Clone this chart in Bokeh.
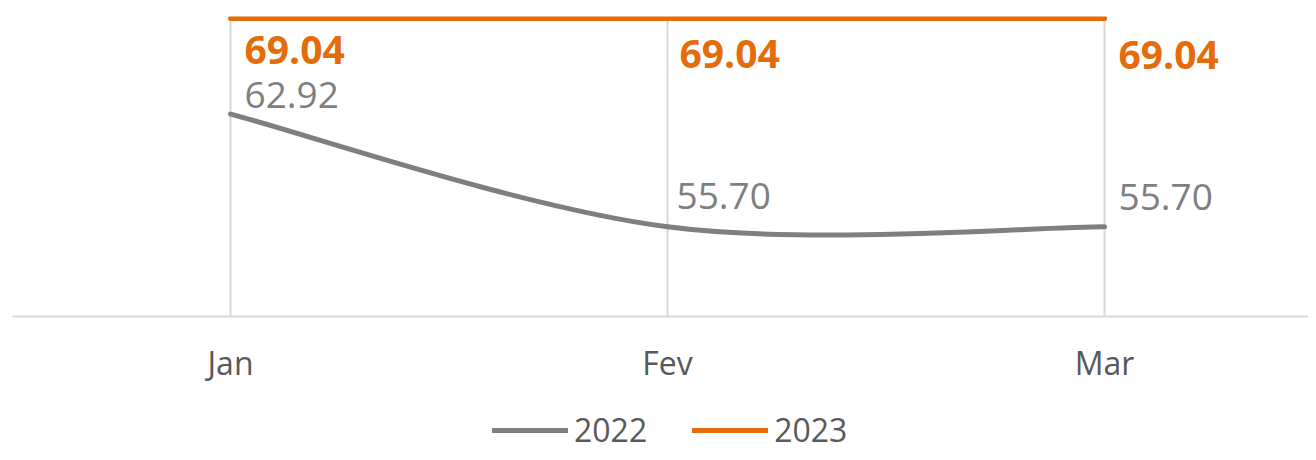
import numpy as np
from bokeh.plotting import figure
from bokeh.layouts import column
from bokeh.models import Range1d, FixedTicker, Legend, LegendItem, ColumnDataSource
from bokeh.core.properties import value
from bokeh.embed import file_html
from bokeh.resources import INLINE

# ---- data ----
categories = ["Jan", "Fev", "Mar"]
series_names = ["2022", "2023"]
values_2022 = [62.92, 55.70, 55.70]
values_2023 = [69.04, 69.04, 69.04]

GRAY = "#7F7F7F"
ORANGE = "#E46C0A"
GRID = "#D9D9D9"
TEXT = "#595959"
FONT = "Open Sans"

xs = list(range(len(categories)))

p = figure(width=1308, height=400, output_backend="svg", toolbar_location=None,
           x_range=Range1d(-0.4989, 2.4668), y_range=Range1d(49.95, 69.17),
           y_axis_location=None, min_border_left=12, min_border_right=0,
           min_border_top=16, min_border_bottom=84)
p.outline_line_color = None
p.background_fill_color = "white"
p.border_fill_color = "white"

# x axis
p.xaxis.ticker = FixedTicker(ticks=xs)
p.xaxis.major_label_overrides = {i: c for i, c in enumerate(categories)}
p.xaxis.major_tick_line_color = None
p.xaxis.minor_tick_line_color = None
p.xaxis.axis_line_color = GRID
p.xaxis.axis_line_width = 2
p.xaxis.major_label_text_font = FONT
p.xaxis.major_label_text_font_size = "32px"
p.xaxis.major_label_text_color = TEXT
p.xaxis.major_label_standoff = 18
p.xgrid.ticker = FixedTicker(ticks=xs)
p.xgrid.grid_line_color = GRID
p.xgrid.grid_line_width = 2
p.ygrid.grid_line_color = None

# smoothed 2022 line (Catmull-Rom style bezier segments, Excel-like smoothing)
def smooth_segments(xv, yv):
    pts = list(zip(xv, yv))
    n = len(pts)
    d = dict(x0=[], y0=[], x1=[], y1=[], cx0=[], cy0=[], cx1=[], cy1=[])
    for i in range(n - 1):
        p0 = pts[max(i - 1, 0)]
        p1 = pts[i]
        p2 = pts[i + 1]
        p3 = pts[min(i + 2, n - 1)]
        d["x0"].append(p1[0]); d["y0"].append(p1[1])
        d["x1"].append(p2[0]); d["y1"].append(p2[1])
        d["cx0"].append(p1[0] + (p2[0] - p0[0]) / 6)
        d["cy0"].append(p1[1] + (p2[1] - p0[1]) / 6)
        d["cx1"].append(p2[0] - (p3[0] - p1[0]) / 6)
        d["cy1"].append(p2[1] - (p3[1] - p1[1]) / 6)
    return d

seg = ColumnDataSource(smooth_segments(xs, values_2022))
p.bezier(x0="x0", y0="y0", x1="x1", y1="y1", cx0="cx0", cy0="cy0", cx1="cx1", cy1="cy1",
         source=seg, line_color=GRAY, line_width=5, line_cap="round")

# 2023 line
p.line(xs, values_2023, line_color=ORANGE, line_width=5, line_cap="round")

# data labels
lab22 = ColumnDataSource(dict(x=xs, y=values_2022, t=[f"{v:.2f}" for v in values_2022],
                              dy=[-19, -31, -30], dx=[14, 9, 14]))
lab23 = ColumnDataSource(dict(x=xs, y=values_2023, t=[f"{v:.2f}" for v in values_2023],
                              dy=[31, 35, 36], dx=[14, 12, 14]))
p.text(x="x", y="y", text="t", source=lab22, x_offset="dx", y_offset="dy",
       text_font=value(FONT), text_font_size="37px", text_color=GRAY,
       text_align="left", text_baseline="middle")
p.text(x="x", y="y", text="t", source=lab23, x_offset="dx", y_offset="dy",
       text_font=value(FONT), text_font_size="39px", text_font_style="bold",
       text_color=ORANGE, text_align="left", text_baseline="middle")

# ---- legend strip below the chart ----
lf = figure(width=1308, height=52, output_backend="svg", toolbar_location=None,
            x_range=Range1d(0, 1), y_range=Range1d(0, 1),
            x_axis_location=None, y_axis_location=None,
            min_border_left=0, min_border_right=0, min_border_top=0, min_border_bottom=0)
lf.outline_line_color = None
lf.xgrid.grid_line_color = None
lf.ygrid.grid_line_color = None
# legend key renderers (kept outside the visible range of this strip)
k22 = lf.line([5, 6], [5, 6], line_color=GRAY, line_width=5, line_cap="round")
k23 = lf.line([5, 6], [5, 6], line_color=ORANGE, line_width=5, line_cap="round")
legend = Legend(items=[LegendItem(label=series_names[0], renderers=[k22]),
                       LegendItem(label=series_names[1], renderers=[k23])],
                orientation="horizontal", location=(480, 1),
                glyph_width=76, glyph_height=20, label_standoff=6, spacing=45,
                padding=0, margin=0, border_line_color=None,
                background_fill_alpha=0,
                label_text_font=FONT, label_text_font_size="32px",
                label_text_color=TEXT)
lf.add_layout(legend, "center")

layout = column(p, lf, spacing=0)
open("out.html", "w").write(file_html(layout, INLINE))
